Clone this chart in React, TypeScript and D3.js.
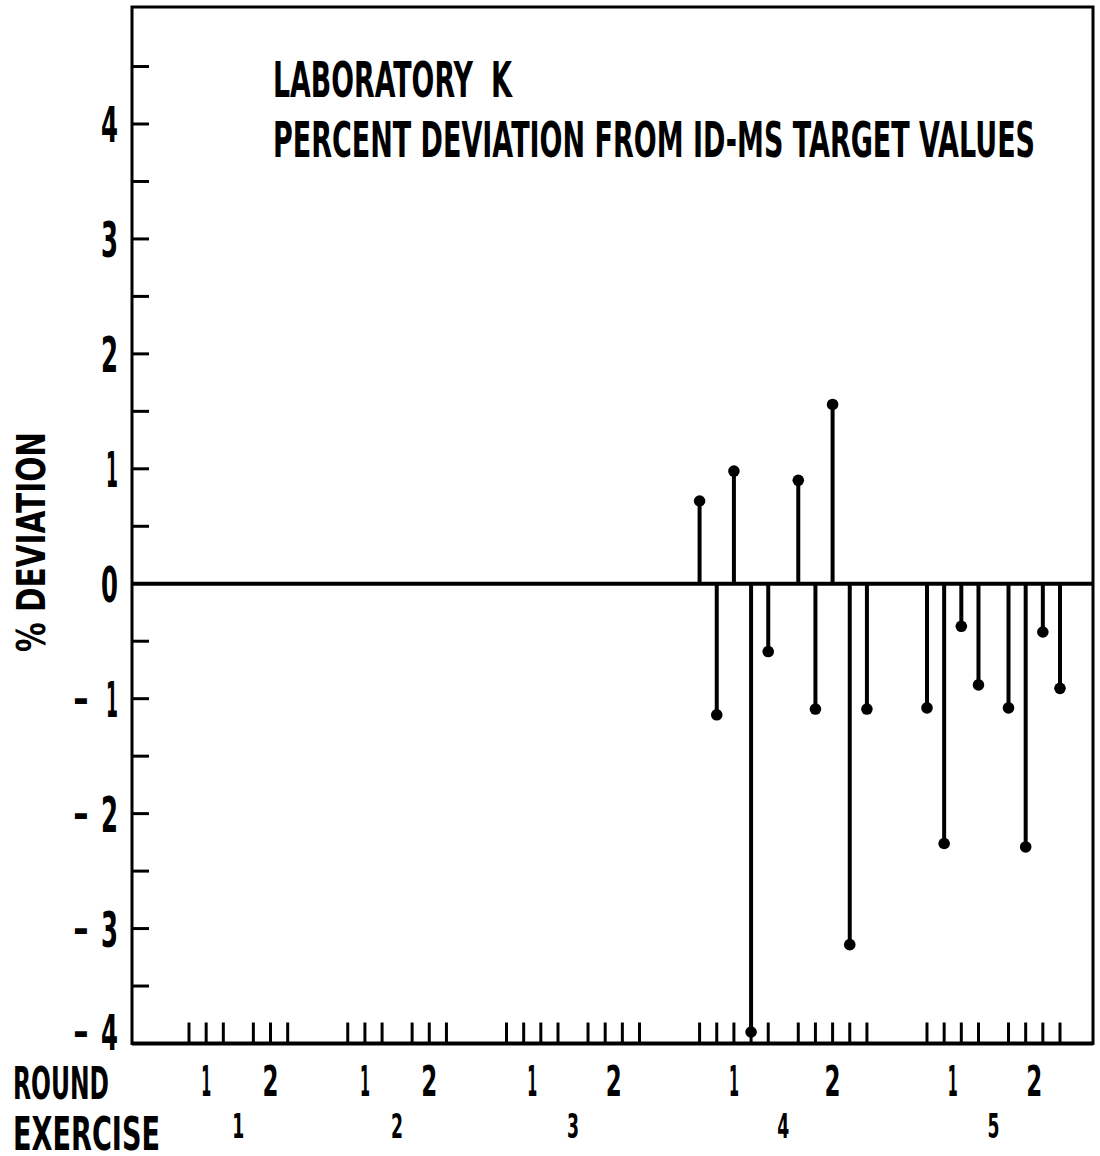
import React from "react";
import * as d3 from "d3";

// Interlaboratory exercises and the two rounds within each
const exerciseLabels = ["1", "2", "3", "4", "5"];
const roundLabels = ["1", "2"];
// number of samples analysed in round 1 and round 2 of each exercise
const samplesPerRound = [
  [3, 3],
  [3, 3],
  [4, 4],
  [5, 5],
  [4, 4],
];

// Laboratory K: percent deviation from ID-MS target values
const exercise4Round1 = [0.72, -1.14, 0.98, -3.9, -0.59];
const exercise4Round2 = [0.9, -1.09, 1.56, -3.14, -1.09];
const exercise5Round1 = [-1.08, -2.26, -0.37, -0.88];
const exercise5Round2 = [-1.08, -2.29, -0.42, -0.91];

// no results reported for exercises 1-3
const deviations: (number[] | null)[][] = [
  [null, null],
  [null, null],
  [null, null],
  [exercise4Round1, exercise4Round2],
  [exercise5Round1, exercise5Round2],
];

const yTickValues = [-4, -3, -2, -1, 0, 1, 2, 3, 4];

const W = 1100;
const H = 1156;
const LEFT = 132;
const RIGHT = 1093;
const TOP = 7;
const FONT = "'Liberation Sans Narrow', 'DejaVu Sans', sans-serif";

const ROUND_GAP = 1.75;
const EXERCISE_GAP = 3.5;

type Slot = { ex: number; round: number; pos: number; value: number | null };

function buildSlots(): Slot[] {
  const slots: Slot[] = [];
  let pos = 0;
  samplesPerRound.forEach((rounds, ex) => {
    if (ex > 0) pos += EXERCISE_GAP - 1;
    rounds.forEach((n, round) => {
      if (round > 0) pos += ROUND_GAP - 1;
      const vals = deviations[ex][round];
      for (let i = 0; i < n; i++) {
        slots.push({ ex, round, pos, value: vals ? vals[i] : null });
        pos += 1;
      }
    });
  });
  return slots;
}

export default function App() {
  const slots = buildSlots();
  const lastPos = slots[slots.length - 1].pos;

  const x = d3.scaleLinear().domain([0, lastPos]).range([189, 1060]);
  const y = d3.scaleLinear().domain([-4, 4]).range([1043.5, 124]);

  const bottom = y(-4);
  const minorTicks = d3.range(-3.5, 5, 0.5).filter((v) => Math.abs(v) > 1e-9);

  const roundCenters: { label: string; cx: number }[] = [];
  const exerciseCenters: { label: string; cx: number }[] = [];
  exerciseLabels.forEach((lab, ex) => {
    const exSlots = slots.filter((s) => s.ex === ex);
    exerciseCenters.push({
      label: lab,
      cx: (x(exSlots[0].pos) + x(exSlots[exSlots.length - 1].pos)) / 2,
    });
    roundLabels.forEach((rl, r) => {
      const rs = exSlots.filter((s) => s.round === r);
      roundCenters.push({ label: rl, cx: (x(rs[0].pos) + x(rs[rs.length - 1].pos)) / 2 });
    });
  });

  const stems = slots.filter((s) => s.value !== null);

  return (
    <svg
      width={W}
      height={H}
      viewBox={`0 0 ${W} ${H}`}
      style={{ position: "absolute", left: 0, top: 0, background: "#fff" }}
    >
      <rect x={0} y={0} width={W} height={H} fill="#fff" />

      {/* frame */}
      <rect
        x={LEFT}
        y={TOP}
        width={RIGHT - LEFT}
        height={bottom - TOP}
        fill="none"
        stroke="#000"
        strokeWidth={3}
      />
      <line x1={LEFT} x2={RIGHT} y1={bottom} y2={bottom} stroke="#000" strokeWidth={4} />

      {/* y ticks */}
      {minorTicks.map((v) => (
        <line key={v} x1={LEFT} x2={LEFT + 17} y1={y(v)} y2={y(v)} stroke="#000" strokeWidth={3} />
      ))}
      {yTickValues.map((v) => {
        // the bottom label sits just above the corner of the frame
        const ty = y(v) + 18 - (v === -4 ? 12 : 0);
        return (
          <g key={v}>
            {v < 0 && (
              <text
                x={89}
                y={ty}
                textAnchor="end"
                fontFamily={FONT}
                fontWeight="bold"
                fontSize={50}
                textLength={16}
                lengthAdjust="spacingAndGlyphs"
              >
                {"\u2212"}
              </text>
            )}
            <text
              x={118}
              y={ty}
              textAnchor="end"
              fontFamily={FONT}
              fontWeight="bold"
              fontSize={50}
              textLength={Math.abs(v) === 1 ? 12 : 17}
              lengthAdjust="spacingAndGlyphs"
            >
              {`${Math.abs(v)}`}
            </text>
          </g>
        );
      })}

      {/* zero line */}
      <line x1={LEFT} x2={RIGHT} y1={y(0)} y2={y(0)} stroke="#000" strokeWidth={4} />

      {/* sample ticks along the bottom */}
      {slots.map((s, i) => (
        <line
          key={i}
          x1={x(s.pos)}
          x2={x(s.pos)}
          y1={bottom}
          y2={bottom - 21}
          stroke="#000"
          strokeWidth={3}
        />
      ))}

      {/* deviation stems */}
      {stems.map((s, i) => (
        <g key={i}>
          <line
            x1={x(s.pos)}
            x2={x(s.pos)}
            y1={y(0)}
            y2={y(s.value as number)}
            stroke="#000"
            strokeWidth={4}
          />
          <circle cx={x(s.pos)} cy={y(s.value as number)} r={5.8} fill="#000" />
        </g>
      ))}

      {/* title */}
      <text
        x={273}
        y={97}
        fontFamily={FONT}
        fontWeight="bold"
        fontSize={49}
        textLength={200}
        lengthAdjust="spacingAndGlyphs"
      >
        LABORATORY
      </text>
      <text
        x={491}
        y={97}
        fontFamily={FONT}
        fontWeight="bold"
        fontSize={49}
        textLength={21}
        lengthAdjust="spacingAndGlyphs"
      >
        K
      </text>
      <text
        x={273}
        y={157}
        fontFamily={FONT}
        fontWeight="bold"
        fontSize={49}
        textLength={762}
        lengthAdjust="spacingAndGlyphs"
      >
        PERCENT DEVIATION FROM ID-MS TARGET VALUES
      </text>

      {/* y axis title */}
      <text
        transform={`translate(45, 542) rotate(-90)`}
        textAnchor="middle"
        fontFamily={FONT}
        fontWeight="bold"
        fontSize={39}
        textLength={220}
        lengthAdjust="spacingAndGlyphs"
      >
        % DEVIATION
      </text>

      {/* x axis labels */}
      <text
        x={13}
        y={1099}
        fontFamily={FONT}
        fontWeight="bold"
        fontSize={45}
        textLength={96}
        lengthAdjust="spacingAndGlyphs"
      >
        ROUND
      </text>
      <text
        x={13}
        y={1150}
        fontFamily={FONT}
        fontWeight="bold"
        fontSize={47}
        textLength={147}
        lengthAdjust="spacingAndGlyphs"
      >
        EXERCISE
      </text>
      {roundCenters.map((r, i) => (
        <text
          key={i}
          x={r.cx}
          y={1096}
          textAnchor="middle"
          fontFamily={FONT}
          fontWeight="bold"
          fontSize={43}
          textLength={r.label === "1" ? 10 : 16}
          lengthAdjust="spacingAndGlyphs"
        >
          {r.label}
        </text>
      ))}
      {exerciseCenters.map((e, i) => (
        <text
          key={i}
          x={e.cx}
          y={1138}
          textAnchor="middle"
          fontFamily={FONT}
          fontWeight="bold"
          fontSize={33}
          textLength={12}
          lengthAdjust="spacingAndGlyphs"
        >
          {e.label}
        </text>
      ))}
    </svg>
  );
}
